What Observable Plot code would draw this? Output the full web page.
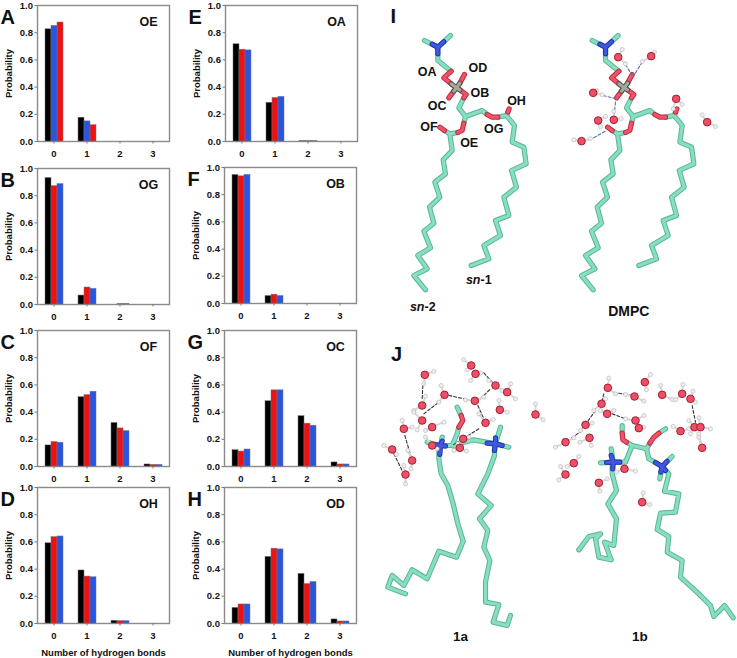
<!DOCTYPE html>
<html>
<head>
<meta charset="utf-8">
<script src="https://cdn.jsdelivr.net/npm/d3@7"></script>
<script src="https://cdn.jsdelivr.net/npm/@observablehq/plot@0.6"></script>
<style>
  body { margin: 0; background: #fff; }
  #fig { position: relative; width: 737px; height: 658px; overflow: hidden; font-family: "Liberation Sans", Arial, sans-serif; }
  #fig svg { position: absolute; overflow: visible; background: transparent; }
</style>
</head>
<body>
<div id="fig"></div>
<script>
const bonds = [0, 1, 2, 3];
const series = ["DMPC", "1a", "1b"];
const seriesColors = ["#000000", "#ee1111", "#2a55e0"];

// probability per bond count [0,1,2,3] for each series
const probOE = { DMPC: [0.825, 0.175, 0, 0], "1a": [0.875, 0.12, 0, 0], "1b": [0.85, 0.148, 0, 0] };
const probOG = { DMPC: [0.93, 0.066, 0, 0], "1a": [0.87, 0.125, 0.003, 0], "1b": [0.885, 0.115, 0.003, 0] };
const probOF = { DMPC: [0.155, 0.51, 0.32, 0.015], "1a": [0.18, 0.525, 0.28, 0.012], "1b": [0.175, 0.55, 0.26, 0.012] };
const probOH = { DMPC: [0.59, 0.39, 0.02, 0], "1a": [0.635, 0.345, 0.017, 0], "1b": [0.64, 0.34, 0.017, 0] };
const probOA = { DMPC: [0.715, 0.285, 0.002, 0], "1a": [0.675, 0.32, 0.002, 0], "1b": [0.67, 0.328, 0.002, 0] };
const probOB = { DMPC: [0.945, 0.055, 0, 0], "1a": [0.935, 0.065, 0, 0], "1b": [0.945, 0.055, 0, 0] };
const probOC = { DMPC: [0.12, 0.48, 0.37, 0.03], "1a": [0.11, 0.56, 0.315, 0.015], "1b": [0.125, 0.56, 0.3, 0.015] };
const probOD = { DMPC: [0.115, 0.49, 0.365, 0.03], "1a": [0.14, 0.55, 0.29, 0.015], "1b": [0.14, 0.545, 0.305, 0.015] };

const panels = [
  { letter: "A", site: "OE", prob: probOE, order: ["DMPC", "1b", "1a"], left: 37, top: 5 },
  { letter: "B", site: "OG", prob: probOG, order: series, left: 37, top: 168 },
  { letter: "C", site: "OF", prob: probOF, order: series, left: 37, top: 330 },
  { letter: "D", site: "OH", prob: probOH, order: series, left: 37, top: 487, last: true },
  { letter: "E", site: "OA", prob: probOA, order: series, left: 225, top: 5 },
  { letter: "F", site: "OB", prob: probOB, order: series, left: 224, top: 167 },
  { letter: "G", site: "OC", prob: probOC, order: series, left: 224, top: 330 },
  { letter: "H", site: "OD", prob: probOD, order: series, left: 224, top: 487, last: true },
];

const fig = document.getElementById("fig");
const font = "Liberation Sans, Arial, sans-serif";

function barPanel(p) {
  const rows = series.flatMap((s) => bonds.map((b, i) => ({ series: s, bond: b, p: p.prob[s][i] })));
  const marginLeft = 37, marginTop = 7, marginBottom = p.last ? 36 : 20;
  const chart = Plot.plot({
    width: marginLeft + 132 + 4,
    height: marginTop + 136 + marginBottom,
    marginLeft, marginRight: 4, marginTop, marginBottom,
    style: { fontFamily: font, fontWeight: "bold", fontSize: "10px", color: "#111" },
    fx: { domain: bonds, padding: 0 },
    x: { domain: p.order, padding: 0, paddingOuter: 1, axis: null },
    y: { domain: [0, 1], axis: null },
    color: { domain: series, range: seriesColors },
    marks: [
      Plot.frame({ facet: "super", stroke: "#8a8a8a", strokeWidth: 1.4 }),
      Plot.barY(rows, { fx: "bond", x: "series", y: "p", fill: "series", stroke: "#777", strokeWidth: 0.5 }),
      Plot.axisY({
        ticks: [0, 0.2, 0.4, 0.6, 0.8, 1],
        tickFormat: ".1f",
        tickSize: 2.5,
        tickPadding: 2,
        stroke: "#777",
        label: "Probability",
        labelAnchor: "center",
        labelArrow: false,
        labelOffset: 32,
        fontSize: 9.5,
      }),
      Plot.axisFx({
        anchor: "bottom",
        tickSize: 2.5,
        tickPadding: 6.5,
        stroke: "#777",
        label: p.last ? "Number of hydrogen bonds" : null,
        labelAnchor: "center",
        labelArrow: false,
        labelOffset: 32,
        fontSize: 9.5,
      }),
      Plot.text([p.site], { facet: "super", text: (d) => d, frameAnchor: "top-right", dx: -21, dy: 12, fontSize: 12.5, textAnchor: "middle" }),
      Plot.text([p.letter], { facet: "super", text: (d) => d, frameAnchor: "top-left", dx: -37, dy: 4, fontSize: 20, textAnchor: "start", fill: "#111" }),
    ],
  });
  chart.style.left = p.left - marginLeft + "px";
  chart.style.top = p.top - marginTop + "px";
  fig.appendChild(chart);
}
panels.forEach(barPanel);

// ---- molecule sticks (coordinates of a 3x crop of each panel) ----
const dmpcTeal = [
  [[132, 120], [172, 140]],
  [[210, 105], [172, 140]],
  [[172, 140], [172, 180], [212, 212]],
  [[250, 292], [235, 322], [255, 348], [305, 330], [320, 342]],
  [[352, 350], [378, 345], [402, 375], [395, 425], [430, 440], [437, 490], [393, 510], [408, 560], [370, 590], [385, 645], [345, 660], [360, 705], [310, 735], [325, 775], [272, 795]],
  [[255, 348], [250, 368]],
  [[232, 396], [208, 400], [215, 450], [188, 478], [195, 520], [163, 545], [178, 590], [147, 620], [160, 668], [130, 692], [150, 742], [112, 765], [140, 805], [100, 825], [135, 868]],
  [[208, 400], [192, 390]],
  [[378, 345], [382, 335]],
];
const dmpcRed = [
  [[212, 212], [190, 232], [212, 250]],
  [[252, 222], [238, 248]],
  [[205, 292], [220, 272]],
  [[238, 268], [257, 282], [250, 292]],
  [[320, 342], [335, 350], [352, 350]],
  [[250, 368], [245, 390], [232, 396]],
  [[192, 390], [178, 380]],
  [[382, 335], [386, 325]],
];
const dmpcBlue = [
  [[155, 131], [172, 140]],
  [[190, 124], [172, 140]],
  [[172, 140], [172, 160]],
];
const dmpcGrey = [
  [[212, 250], [228, 262]],
  [[238, 248], [228, 262]],
  [[220, 272], [228, 262]],
  [[238, 268], [228, 262]],
];
const dmpcWaters = [
  [713, 170, 725, 147, 735, 190],
  [812, 167, 785, 183, 822, 155],
  [638, 277, 665, 283, 648, 270],
  [700, 358, 722, 355, 700, 332],
  [653, 360, 675, 348, 660, 378],
  [603, 422, 580, 418, 630, 415],
  [887, 295, 905, 312, 878, 325],
  [980, 365, 965, 343, 1005, 378],
];
const dmpcBonds = [
  [[735, 192], [755, 225]],
  [[785, 185], [760, 225]],
  [[668, 285], [708, 295]],
  [[705, 305], [700, 350]],
  [[640, 412], [678, 390]],
];

const molTeal = [
  // 1a
  [[205, 350], [205, 385], [212, 430], [232, 465], [248, 520], [262, 580], [278, 632], [258, 680], [205, 662], [170, 745], [125, 718], [100, 765], [65, 735], [52, 770], [105, 790]],
  [[372, 345], [372, 375], [352, 430], [322, 490], [362, 525], [327, 565], [352, 600], [340, 650], [358, 690], [345, 755], [345, 815], [385, 822], [368, 875], [410, 885], [420, 855]],
  [[390, 290], [375, 340], [415, 350]],
  [[375, 340], [310, 328], [245, 345], [210, 345]],
  [[260, 230], [272, 255]],
  [[265, 290], [260, 310], [245, 345], [268, 352]],
  [[215, 320], [210, 345], [170, 335]],
  // 1b
  [[725, 395], [725, 430], [738, 480], [712, 520], [738, 565], [730, 645], [702, 635], [722, 688], [685, 680], [675, 625], [690, 610], [655, 618], [625, 658]],
  [[875, 408], [895, 430], [882, 482], [925, 490], [915, 545], [870, 548], [860, 597], [895, 618], [890, 665], [935, 690], [930, 740], [985, 790], [1020, 825], [1030, 858], [1062, 825], [1088, 862]],
  [[722, 355], [728, 395], [690, 397]],
  [[728, 395], [765, 395], [785, 345], [768, 335]],
  [[785, 345], [828, 355], [835, 385], [875, 408]],
  [[755, 285], [755, 308]],
  [[828, 355], [838, 338]],
  [[885, 295], [865, 308]],
  [[905, 378], [875, 408], [868, 445]],
];
const molRed = [
  [[272, 255], [277, 270], [265, 290]],
  [[755, 308], [757, 328], [768, 335]],
  [[838, 338], [850, 320], [865, 308]],
];
const molBlue = [
  [[215, 332], [210, 345], [190, 342]],
  [[210, 345], [208, 372]],
  [[225, 347], [210, 345]],
  [[375, 322], [375, 340], [395, 345]],
  [[350, 338], [375, 340], [372, 360]],
  [[722, 375], [728, 395], [708, 396]],
  [[728, 395], [727, 415]],
  [[748, 395], [728, 395]],
  [[890, 392], [875, 408], [871, 425]],
  [[855, 396], [875, 408], [885, 420]],
];
const molWaters = [
  // 1a
  [302, 105, 280, 88, 290, 118], [315, 130, 300, 150, 330, 128], [163, 133, 190, 123, 160, 160],
  [155, 225, 130, 240, 165, 197], [222, 193, 212, 165, 205, 215], [313, 211, 285, 208, 340, 200],
  [375, 165, 355, 150, 395, 180], [410, 185, 420, 160, 435, 205], [388, 238, 385, 210, 410, 245],
  [495, 252, 495, 220, 518, 268], [345, 277, 325, 250, 368, 267], [155, 270, 130, 245, 140, 298],
  [185, 290, 165, 300, 220, 275], [100, 295, 95, 270, 125, 290], [65, 357, 40, 345, 78, 372],
  [125, 390, 112, 360, 122, 415], [105, 432, 100, 405, 105, 460], [185, 345, 165, 320, 200, 355],
  [278, 325, 262, 340, 295, 320], [268, 352, 250, 360, 288, 362],
  // 1b
  [712, 172, 715, 143, 735, 190], [823, 155, 840, 132, 828, 178], [792, 198, 765, 192, 820, 212],
  [875, 193, 870, 165, 905, 207], [935, 190, 937, 162, 915, 208], [960, 205, 968, 182, 975, 215],
  [693, 220, 670, 240, 705, 205], [710, 250, 690, 240, 730, 240], [795, 270, 765, 265, 820, 255],
  [805, 293, 800, 275, 820, 290], [645, 283, 630, 300, 665, 278], [657, 322, 628, 335, 662, 345],
  [585, 335, 555, 350, 610, 322], [930, 302, 908, 288, 955, 295], [972, 290, 955, 270, 960, 310],
  [990, 290, 985, 262, 1020, 295], [995, 352, 985, 320, 985, 310], [610, 398, 625, 378, 590, 408],
  [585, 432, 570, 408, 565, 448], [762, 415, 795, 422, 738, 425], [685, 457, 710, 445, 688, 482],
  [815, 515, 818, 487, 838, 522],
];
const molBonds = [
  [[340, 127], [365, 155]], [[157, 165], [155, 205]], [[160, 250], [205, 215]], [[235, 195], [295, 208]],
  [[330, 205], [360, 175]], [[322, 225], [340, 265]], [[325, 295], [285, 320]], [[270, 330], [245, 345]],
  [[103, 315], [122, 380]], [[70, 370], [95, 420]],
  [[745, 188], [785, 195]], [[700, 190], [695, 210]], [[725, 250], [765, 265]], [[675, 240], [650, 275]],
  [[635, 300], [600, 325]], [[965, 225], [975, 275]], [[985, 315], [990, 340]],
];

const dmpcLabels = [
  ["OA", 140, 215], ["OD", 292, 203], ["OB", 298, 278], ["OC", 170, 315],
  ["OH", 408, 302], ["OF", 145, 378], ["OG", 340, 385], ["OE", 266, 428],
];

const stickWidth = 5.2;

function rowsOf(paths) {
  return paths.flatMap((path, id) => path.map(([x, y]) => ({ id, x, y })));
}
function stick(paths, edge, core, w, dx = 0) {
  const o = { x: "x", y: "y", z: "id", strokeLinejoin: "round", strokeLinecap: "round", dx };
  return [
    Plot.line(rowsOf(paths), { ...o, stroke: edge, strokeWidth: w }),
    Plot.line(rowsOf(paths), { ...o, stroke: core, strokeWidth: w * 0.62 }),
  ];
}
function waterMarks(waters, r) {
  const oh = waters.flatMap((w) => [[[w[0], w[1]], [w[2], w[3]]], [[w[0], w[1]], [w[4], w[5]]]]);
  const h = waters.flatMap((w) => [[w[2], w[3]], [w[4], w[5]]]);
  return [
    Plot.line(rowsOf(oh), { x: "x", y: "y", z: "id", stroke: "#d8d8d8", strokeWidth: 2 }),
    Plot.dot(h, { x: "0", y: "1", r: r * 0.55, fill: "#eeeeee", stroke: "#aaaaaa", strokeWidth: 0.5 }),
    Plot.dot(waters, { x: "0", y: "1", r, fill: "#ec5066", stroke: "#a81c30", strokeWidth: 1 }),
  ];
}
function bondMarks(paths, color) {
  return Plot.line(rowsOf(paths), { x: "x", y: "y", z: "id", stroke: color, strokeWidth: 1.1, strokeDasharray: "3,2" });
}
function moleculeMarks(teal, red, blue) {
  return [
    stick(teal, "#5cb398", "#86dfc1", stickWidth),
    stick(red, "#c2283e", "#ee5468", stickWidth),
    stick(blue, "#2333a8", "#4058e0", stickWidth),
  ];
}
function dmpc(dx) {
  return [
    stick(dmpcTeal, "#5cb398", "#86dfc1", stickWidth, dx),
    stick(dmpcRed, "#c2283e", "#ee5468", stickWidth, dx),
    stick(dmpcBlue, "#2333a8", "#4058e0", stickWidth, dx),
    stick(dmpcGrey, "#4c5248", "#a4a89c", stickWidth, dx),
  ];
}

const panelI = Plot.plot({
  width: 357, height: 330, margin: 0,
  x: { domain: [0, 1071], range: [0, 357], axis: null },
  y: { domain: [0, 990], range: [0, 330], axis: null },
  style: { fontFamily: font, fontWeight: "bold", color: "#111" },
  marks: [
    dmpc(0),
    dmpc(167.7),
    bondMarks(dmpcBonds, "#5a6fc0"),
    waterMarks(dmpcWaters, 3.8),
    Plot.text(dmpcLabels, { x: "1", y: "2", text: "0", fontSize: 12.5 }),
    Plot.text(["I"], { x: [38], y: [48], fontSize: 20 }),
    Plot.text(["sn"], { x: [300], y: [838], textAnchor: "end", fontStyle: "italic", fontSize: 12.5 }),
    Plot.text(["-1"], { x: [300], y: [838], textAnchor: "start", fontSize: 12.5 }),
    Plot.text(["sn"], { x: [132], y: [918], textAnchor: "end", fontStyle: "italic", fontSize: 12.5 }),
    Plot.text(["-2"], { x: [132], y: [918], textAnchor: "start", fontSize: 12.5 }),
    Plot.text(["DMPC"], { x: [745], y: [932], fontSize: 14 }),
  ],
});
panelI.style.left = "380px";
panelI.style.top = "0px";
fig.appendChild(panelI);

const panelJ = Plot.plot({
  width: 367, height: 328, margin: 0,
  x: { domain: [0, 1101], range: [0, 367], axis: null },
  y: { domain: [0, 984], range: [0, 328], axis: null },
  style: { fontFamily: font, fontWeight: "bold", color: "#111" },
  marks: [
    moleculeMarks(molTeal, molRed, molBlue),
    bondMarks(molBonds, "#333333"),
    waterMarks(molWaters, 3.8),
    Plot.text(["J"], { x: [78], y: [72], fontSize: 20 }),
    Plot.text(["1a"], { x: [270], y: [918], fontSize: 13.5 }),
    Plot.text(["1b"], { x: [808], y: [918], fontSize: 13.5 }),
  ],
});
panelJ.style.left = "370px";
panelJ.style.top = "330px";
fig.appendChild(panelJ);
</script>
</body>
</html>
